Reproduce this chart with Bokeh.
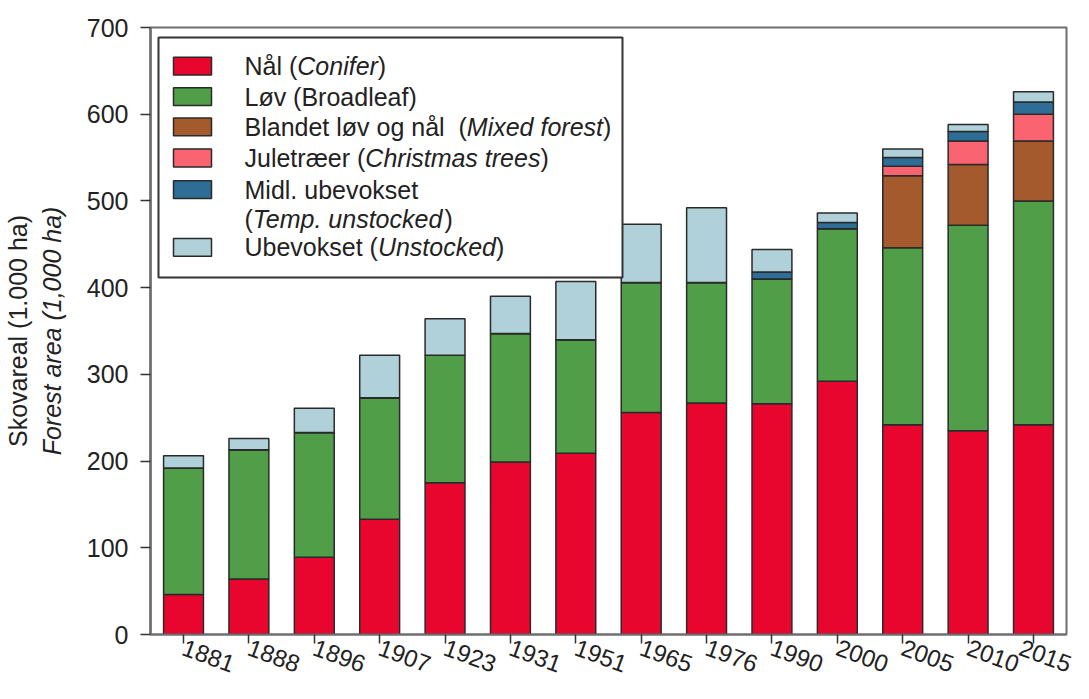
from bokeh.plotting import figure
from bokeh.models import ColumnDataSource, FixedTicker, LinearAxis, Range1d
from bokeh.core.properties import value
from bokeh.embed import file_html
from bokeh.resources import INLINE

# ---------------- data ----------------
years = ["1881", "1888", "1896", "1907", "1923", "1931", "1951",
         "1965", "1976", "1990", "2000", "2005", "2010", "2015"]
conifer = [46, 64, 89, 133, 175, 199, 209, 256, 267, 266, 292, 242, 235, 242]
broadleaf = [146, 149, 144, 140, 147, 148, 131, 150, 139, 144, 176, 204, 237, 258]
mixed = [0, 0, 0, 0, 0, 0, 0, 0, 0, 0, 0, 83, 70, 69]
christmas = [0, 0, 0, 0, 0, 0, 0, 0, 0, 0, 0, 11, 27, 31]
temp_unstocked = [0, 0, 0, 0, 0, 0, 0, 0, 0, 8, 7, 10, 11, 14]
unstocked = [14, 13, 28, 49, 42, 43, 67, 67, 86, 26, 11, 10, 8, 12]
y_ticks = [0, 100, 200, 300, 400, 500, 600, 700]

series = ["conifer", "broadleaf", "mixed", "christmas", "temp_unstocked", "unstocked"]
colors = ["#E8062F", "#509E48", "#A45A2C", "#FA6470", "#2E6E96", "#B0D0DA"]

# legend text: list of rows, each a list of (text, italic?)
legend_rows = [
    [("Nål (", False), ("Conifer", True), (")", False)],
    [("Løv (Broadleaf)", False)],
    [("Blandet løv og nål", False), ("(", False), ("Mixed forest", True), (")", False)],
    [("Juletræer (", False), ("Christmas trees", True), (")", False)],
    [("Midl. ubevokset", False)],
    [("(", False), ("Temp. unstocked", True), (")", False)],
    [("Ubevokset (", False), ("Unstocked", True), (")", False)],
]
legend_swatch_rows = [0, 1, 2, 3, 4, 6]

FONT = "Liberation Sans"
FS = 25
W, H = 1073, 683

# Arial-compatible advance widths (per 1000 em)
AW = {" ": 278, "(": 333, ")": 333, ".": 278, ",": 278,
      "B": 667, "C": 722, "F": 611, "J": 500, "L": 556, "M": 833, "N": 722,
      "S": 667, "T": 611, "U": 722,
      "a": 556, "b": 556, "c": 500, "d": 556, "e": 556, "f": 278, "g": 556,
      "h": 556, "i": 222, "k": 500, "l": 222, "m": 833, "n": 556, "o": 556,
      "p": 556, "r": 333, "s": 500, "t": 278, "u": 556, "v": 500, "x": 500,
      "å": 556, "æ": 889, "ø": 611}


def text_w(s):
    return sum(AW.get(ch, 556) for ch in s) * FS / 1000.0


# frame position in pixels (reference)
FL, FR, FT, FB = 150.0, 1066.0, 27.0, 641.0

# ---------------- figure ----------------
X0, X1 = -0.505, 13.505
Y0, Y1 = 0, 700

p = figure(width=W, height=H, x_range=Range1d(X0, X1), y_range=Range1d(Y0, Y1),
           output_backend="svg", toolbar_location=None,
           min_border_left=int(FL), min_border_right=W - int(FR),
           min_border_top=int(FT), min_border_bottom=40)
p.xgrid.visible = False
p.ygrid.visible = False
p.outline_line_color = "#6e6e6e"
p.outline_line_width = 2
p.background_fill_color = "white"
p.border_fill_color = "white"

xs = list(range(len(years)))
src = ColumnDataSource(dict(x=xs, conifer=conifer, broadleaf=broadleaf, mixed=mixed,
                            christmas=christmas, temp_unstocked=temp_unstocked,
                            unstocked=unstocked))
p.vbar_stack(series, x="x", width=0.61, fill_color=colors, line_color="#2a2a2a",
             line_width=1.5, source=src)

# x axis
p.xaxis.ticker = FixedTicker(ticks=xs)
p.xaxis.major_label_overrides = {i: y for i, y in enumerate(years)}
p.xaxis.major_label_orientation = -0.35
p.xaxis.major_label_text_font = FONT
p.xaxis.major_label_text_font_size = "24px"
p.xaxis.major_label_text_color = "#222222"
p.xaxis.major_label_standoff = 3
p.xaxis.axis_line_color = "#6e6e6e"
p.xaxis.axis_line_width = 2
p.xaxis.major_tick_line_color = "#333333"
p.xaxis.major_tick_line_width = 1.5
p.xaxis.major_tick_out = 9
p.xaxis.major_tick_in = 0
p.xaxis.minor_tick_line_color = None

# y axis
p.yaxis.ticker = FixedTicker(ticks=y_ticks)
p.yaxis.major_label_text_font = FONT
p.yaxis.major_label_text_font_size = f"{FS}px"
p.yaxis.major_label_text_color = "#222222"
p.yaxis.major_label_standoff = 12
p.yaxis.axis_line_color = "#6e6e6e"
p.yaxis.axis_line_width = 2.5
p.yaxis.major_tick_line_color = "#333333"
p.yaxis.major_tick_line_width = 1.5
p.yaxis.major_tick_out = 10
p.yaxis.major_tick_in = 0
p.yaxis.minor_tick_line_color = None
p.yaxis.axis_label = "Forest area (1,000 ha)"
p.yaxis.axis_label_text_font = FONT
p.yaxis.axis_label_text_font_size = f"{FS}px"
p.yaxis.axis_label_text_font_style = "italic"
p.yaxis.axis_label_text_color = "#222222"
p.yaxis.axis_label_standoff = 18

extra = LinearAxis(axis_label="Skovareal (1.000 ha)", ticker=FixedTicker(ticks=[]),
                   axis_line_color=None, major_tick_line_color=None,
                   minor_tick_line_color=None, major_label_text_font_size="0px",
                   axis_label_text_font=FONT, axis_label_text_font_size=f"{FS}px",
                   axis_label_text_font_style="normal", axis_label_text_color="#222222",
                   axis_label_standoff=3, major_tick_out=0, major_tick_in=0,
                   major_label_standoff=0)
p.add_layout(extra, "left")

# ---------------- legend (manual, mixed italic text) ----------------


def dx(px):
    return X0 + (px - FL) / (FR - FL) * (X1 - X0)


def dy(py):
    return Y0 + (FB - py) / (FB - FT) * (Y1 - Y0)


p.quad(left=[dx(158)], right=[dx(622)], top=[dy(37)], bottom=[dy(280)],
       fill_color="white", line_color="#333333", line_width=2)

row_y = [66, 97, 127.5, 159, 191, 221, 249.5]
for k, r in enumerate(legend_swatch_rows):
    p.quad(left=[dx(173)], right=[dx(211)], top=[dy(row_y[r] - 9)], bottom=[dy(row_y[r] + 9)],
           fill_color=colors[k], line_color="#2a2a2a", line_width=1.5)

tx, ty, tt, tst = [], [], [], []
for r, segs in enumerate(legend_rows):
    cur = 244.0
    for j, (s, it) in enumerate(segs):
        if s == "(" and j > 0:
            cur += text_w("  ")
        tx.append(dx(cur))
        ty.append(dy(row_y[r]))
        tt.append(s)
        tst.append("italic" if it else "normal")
        cur += text_w(s)
tsrc = ColumnDataSource(dict(x=tx, y=ty, text=tt, style=tst))
p.text(x="x", y="y", text="text", source=tsrc, text_font=value(FONT),
       text_font_size=value(f"{FS}px"), text_font_style="style",
       text_baseline="middle", text_align="left", text_color="#222222")

open("out.html", "w").write(file_html(p, INLINE))
